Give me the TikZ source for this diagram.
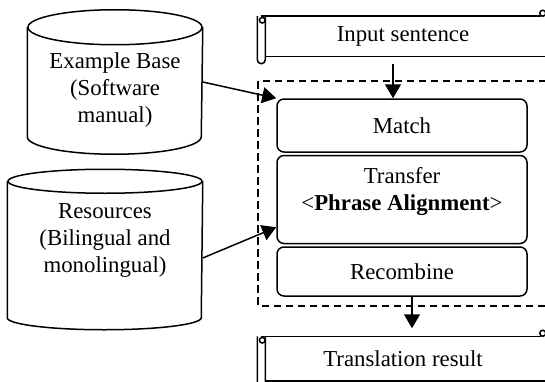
\documentclass[tikz,border=0pt]{standalone}
\usepackage{fontspec}
\setmainfont{Liberation Serif}
\usepackage{tikz}
\usetikzlibrary{arrows.meta,positioning,calc}

\begin{document}
\begin{tikzpicture}[x=0.5pt, y=0.5pt,
    font=\fontsize{11.4}{13.5}\selectfont,
    line width=0.75pt,
    stage/.style={rectangle, draw, rounded corners=3.5pt,
                  minimum width=125pt, inner sep=0pt, align=center},
    drum/.style={rectangle, inner sep=0pt, align=center},
    scroll/.style={rectangle, inner sep=0pt, minimum width=141pt},
    arr/.style={-{Triangle[length=7pt,width=8pt]}, line width=0.75pt},
    frame/.style={dash pattern=on 3.8pt off 2.2pt, line width=1.05pt}
]
\useasboundingbox (0,0) rectangle (545,381);
\clip (0,0) rectangle (545,381);

% data stores
\node[drum, minimum width=87pt, minimum height=54pt] (exbase) at (115,299)
      {\rule{0pt}{16pt}Example Base\\(Software\\manual)};
\node[drum, minimum width=97pt, minimum height=67.5pt] (resources) at (105,131.5)
      {Resources\\(Bilingual and\\monolingual)\rule[-11pt]{0pt}{0pt}};

\draw (exbase.north) ellipse [x radius=43.5pt, y radius=8.75pt];
\draw (exbase.north west) -- (exbase.south west)
      arc [start angle=180, end angle=360, x radius=43.5pt, y radius=8.75pt]
      -- (exbase.north east);
\draw (resources.north) ellipse [x radius=48.5pt, y radius=6pt];
\draw (resources.north west) -- (resources.south west)
      arc [start angle=180, end angle=360, x radius=48.5pt, y radius=6pt]
      -- (resources.north east);

% translation stages
\node[stage, minimum height=26.5pt] (match) at (402,255.5) {Match};
\node[stage, minimum height=44pt, below=1pt of match] (transfer)
      {Transfer\\\textless\textbf{Phrase Alignment}\textgreater\rule[-10.5pt]{0pt}{0pt}};
\node[stage, minimum height=24.5pt, below=1pt of transfer] (recombine) {Recombine};

\draw[frame] ($(match.north west)+(-18,17)$) rectangle ($(recombine.south east)+(40,-9)$);

% input and output scrolls
\node[scroll, minimum height=19.5pt] (input) at (403,344.5) {Input sentence};
\node[scroll, minimum height=21.5pt] (result) at (403,22.5) {Translation result};

\draw (input.north west) -- ($(input.north east)+(-4,0)$);
\draw ($(input.south west)+(4,0)$) -- ($(input.south east)+(20,0)$);
\draw[rounded corners=2pt] ($(input.north west)+(-4,0)$)
      -- ($(input.south west)+(-4,-7)$) -- ($(input.south west)+(4,-7)$)
      -- ($(input.north west)+(4,0)$);
\draw ($(input.north west)+(1,-4)$) circle [radius=1.4pt];
\draw ($(input.north east)+(-2,3)$) circle [radius=1.5pt];

\draw (result.north west) -- ($(result.north east)+(-4,0)$);
\draw ($(result.south west)+(4,0)$) -- ($(result.south east)+(20,0)$);
\draw[rounded corners=2pt] ($(result.north west)+(-4,0)$)
      -- ($(result.south west)+(-4,-7)$) -- ($(result.south west)+(4,-7)$)
      -- ($(result.north west)+(4,0)$);
\draw ($(result.north west)+(1,-4)$) circle [radius=1.4pt];
\draw ($(result.north east)+(-2,3)$) circle [radius=1.5pt];

% connectors
\coordinate (inarr) at ($(input.south)+(-10,-7)$);
\coordinate (outarr) at ($(recombine.south)+(10,0)$);
\draw[arr] (inarr) -- (inarr |- match.north);
\draw[arr] (outarr) -- ($(outarr |- result.north)+(0,8)$);
\draw[arr] (exbase.east) -- (match.north west);
\draw[arr] ($(resources.east)+(0,-8.5)$) -- ($(transfer.south west)+(0,17)$);
\end{tikzpicture}
\end{document}
